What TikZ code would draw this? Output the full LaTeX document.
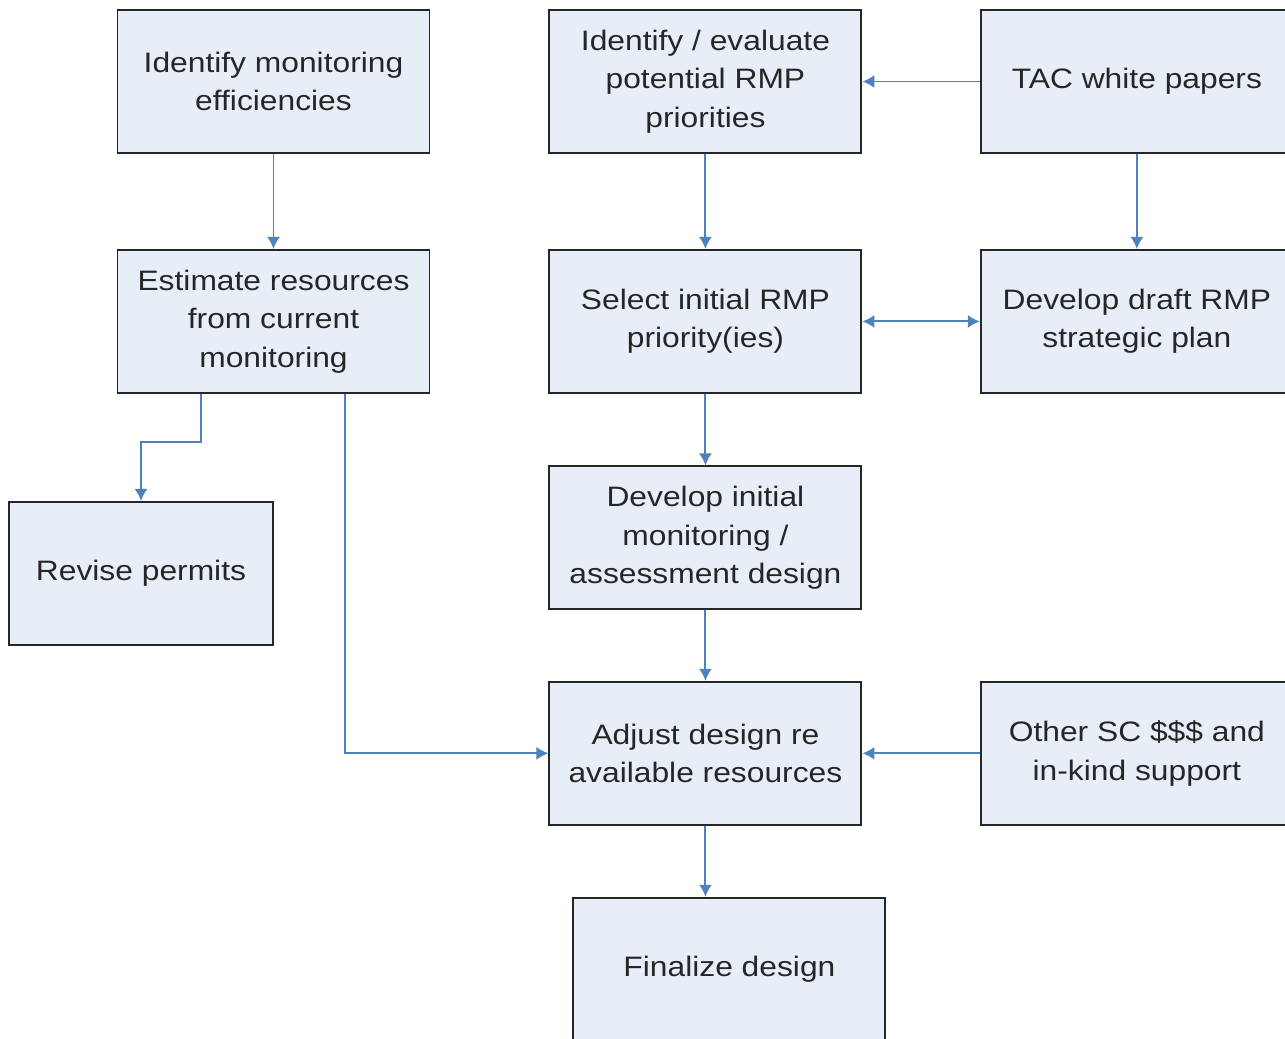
\documentclass[tikz,border=0pt]{standalone}
\usepackage{fontspec}
\setmainfont{Liberation Sans}[FakeStretch=1.13]
\usetikzlibrary{arrows.meta,positioning}
\definecolor{boxfill}{RGB}{232,238,248}
\definecolor{linkblue}{RGB}{79,129,189}
\tikzset{%
  >={Latex[width=2.6mm,length=2.4mm]},
            base/.style = {rectangle, draw=black!85, line width=1.1pt,
                           minimum width=6.24cm, minimum height=2.86cm,
                           text centered, align=center, text=black!85,
                           font=\fontsize{16}{21.9}\selectfont},
  box/.style  = {base, fill=boxfill},
  link/.style = {->, draw=linkblue, line width=1.1pt},
}
\begin{document}
\begin{tikzpicture}[node distance=1.9cm and 2.36cm]
  \useasboundingbox (0,0) rectangle (25.7,-20.76);

  \node (onEfficiency)  [box] at (5.47,-1.63)                        {Identify monitoring\\ efficiencies};
  \node (onPriorities)  [box, right=of onEfficiency]                 {Identify / evaluate\\ potential RMP\\ priorities};
  \node (onPapers)      [box, right=2.35cm of onPriorities]          {TAC white papers};
  \node (onEstimate)    [box, below=of onEfficiency]                 {Estimate resources\\ from current\\ monitoring};
  \node (onSelect)      [box, below=of onPriorities]                 {Select initial RMP\\ priority(ies)};
  \node (onDraft)       [box, below=of onPapers]                     {Develop draft RMP\\ strategic plan};
  \node (onPermits)     [box, minimum width=5.28cm, below=2.14cm of onEstimate, xshift=-2.65cm] {Revise permits};
  \node (onInitial)     [box, below=1.43cm of onSelect]              {Develop initial\\ monitoring /\\ assessment design};
  \node (onAdjust)      [box, below=1.41cm of onInitial]             {Adjust design re\\ available resources};
  \node (onSupport)     [box, right=2.35cm of onAdjust]              {Other SC \$\$\$ and\\ in-kind support};
  \node (onFinal)       [box, below=1.42cm of onAdjust, xshift=0.48cm] {Finalize design};

  \draw[link] (onEfficiency) -- (onEstimate);
  \draw[link] (onPapers)     -- (onPriorities);
  \draw[link] (onPriorities) -- (onSelect);
  \draw[link] (onPapers)     -- (onDraft);
  \draw[link, <->] (onSelect) -- (onDraft);
  \draw[link] ([xshift=1.68cm]onEstimate.south west) -- ++(0,-0.96) -| (onPermits.north);
  \draw[link] ([xshift=4.56cm]onEstimate.south west) |- (onAdjust.west);
  \draw[link] (onSelect)     -- (onInitial);
  \draw[link] (onInitial)    -- (onAdjust);
  \draw[link] (onSupport)    -- (onAdjust);
  \draw[link] (onAdjust.south) -- (onAdjust.south |- onFinal.north);
\end{tikzpicture}
\end{document}
